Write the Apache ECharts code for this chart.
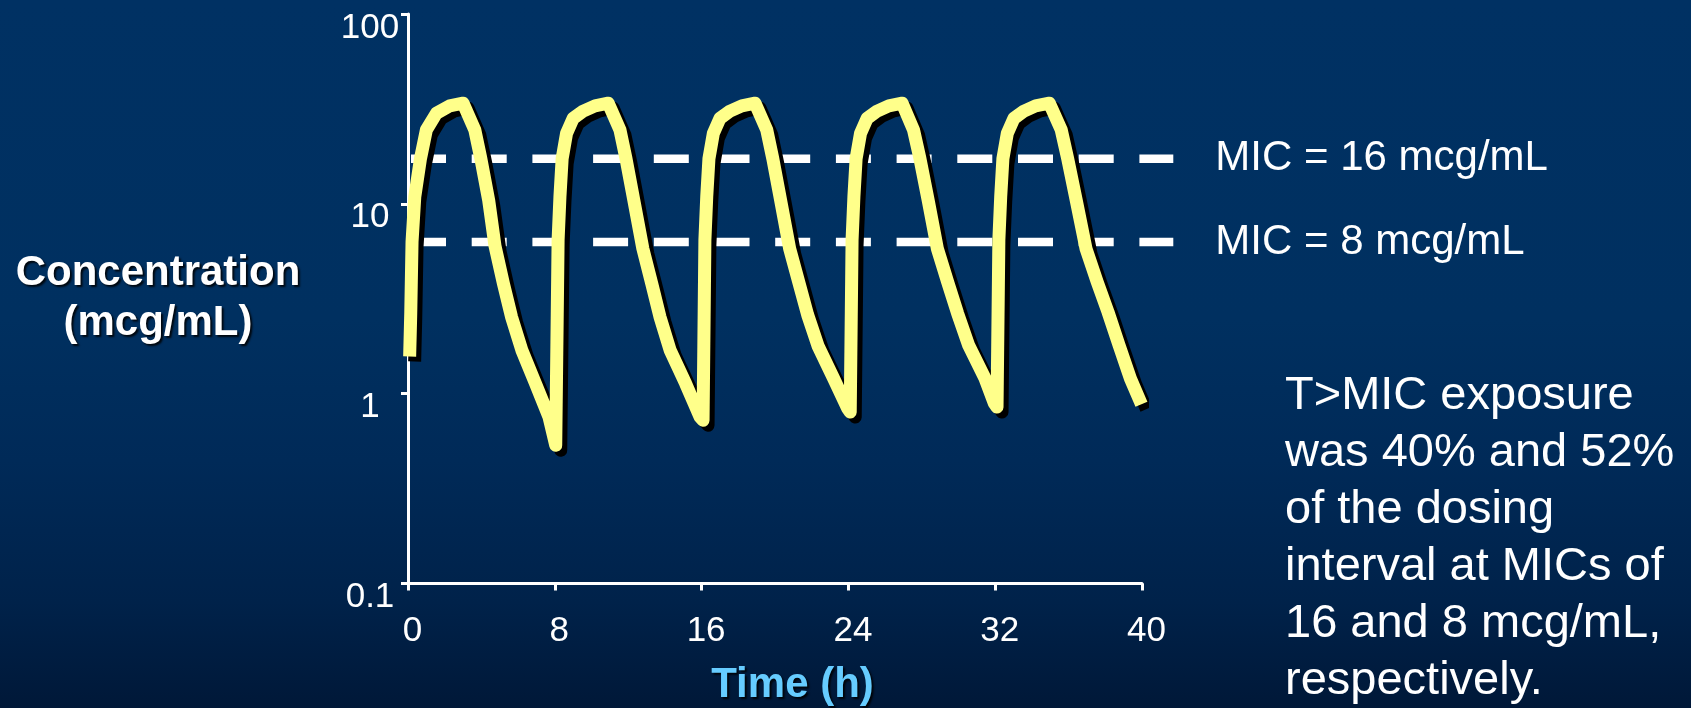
<!DOCTYPE html>
<html>
<head>
<meta charset="utf-8">
<script src="https://cdn.jsdelivr.net/npm/echarts@6/dist/echarts.min.js"></script>
<style>
  html, body { margin: 0; padding: 0; }
  body { background: linear-gradient(to bottom, #003163 0%, #003060 45%, #002a58 65%, #00224a 85%, #001838 100%); }
  #chart { width: 1691px; height: 708px; }
</style>
</head>
<body>
<div id="chart"></div>
<script>
// ---- data ----
const xTicks = [0, 8, 16, 24, 32, 40];          // Time (h)
const yTicks = [0.1, 1, 10, 100];               // Concentration (mcg/mL), log scale

// concentration–time profile, one array per 8-h dosing interval: [time h, mcg/mL]
const dose1 = [[0.09,1.57],[0.15,2.66],[0.22,6.3],[0.37,10.9],[0.68,17.3],[1.0,24.5],[1.55,30.0],[2.27,32.8],[3.0,33.9],
               [3.64,24.5],[3.97,17.3],[4.4,10.4],[4.74,6.0],[5.2,3.8],[5.64,2.54],[6.2,1.70],[6.95,1.13],[7.68,0.756],[8.05,0.535]];
const dose2 = [[8.18,6.45],[8.28,10.9],[8.40,17.3],[8.64,23.5],[9.0,28.2],[9.55,30.8],[10.19,32.8],[10.91,33.9],
               [11.55,24.5],[11.88,17.3],[12.31,10.4],[12.8,5.8],[13.28,3.81],[13.73,2.54],[14.28,1.70],[15.13,1.13],[15.91,0.756],[16.08,0.724]];
const dose3 = [[16.18,6.45],[16.28,10.9],[16.4,17.3],[16.64,23.5],[17.0,28.2],[17.55,30.8],[18.19,32.8],[18.91,33.9],
               [19.55,24.5],[19.88,17.3],[20.31,10.4],[20.8,5.8],[21.3,3.85],[21.78,2.6],[22.35,1.78],[23.2,1.2],[23.95,0.84],[24.1,0.80]];
const dose4 = [[24.2,6.45],[24.3,10.9],[24.42,17.3],[24.66,23.5],[25.02,28.2],[25.57,30.8],[26.2,32.8],[26.93,33.9],
               [27.55,24.5],[27.9,17.3],[28.35,10.4],[28.85,5.8],[29.4,3.9],[29.95,2.65],[30.55,1.8],[31.45,1.2],[31.95,0.89],[32.1,0.85]];
const dose5 = [[32.2,6.45],[32.3,10.9],[32.42,17.3],[32.66,23.5],[33.02,28.2],[33.57,30.8],[34.2,32.8],[34.95,33.9],
               [35.6,24.5],[35.95,17.3],[36.42,10.4],[36.95,5.8],[37.55,3.9],[38.15,2.69],[38.75,1.8],[39.37,1.2],[39.97,0.88]];

// MIC reference lines (level where drawn in the picture) and their labels
const micLevels = [17.3, 6.3];
const micLabels = ['MIC = 16 mcg/mL', 'MIC = 8 mcg/mL'];
const micLineEndH = 41.73;   // dashed lines run a little past the 40-h end of the axis

const noteLines = ['T>MIC exposure', 'was 40% and 52%', 'of the dosing', 'interval at MICs of', '16 and 8 mcg/mL,', 'respectively.'];

// ---- chart ----
const FONT = '"Liberation Sans", Arial, Helvetica, sans-serif';
const profile = [].concat(dose1, dose2, dose3, dose4, dose5);

const chart = echarts.init(document.getElementById('chart'), null, { renderer: 'canvas' });

const micSeries = micLevels.map((lvl, i) => ({
  type: 'line',
  name: micLabels[i],
  xAxisIndex: 1, yAxisIndex: 1,
  data: [[0, lvl], [micLineEndH, lvl]],
  symbol: 'none', silent: true, z: 2,
  lineStyle: { color: '#ffffff', width: 8.5, type: [35, 25.7], dashOffset: 57.7, cap: 'butt' },
  endLabel: { show: true, formatter: micLabels[i], color: '#ffffff', fontSize: 42, fontFamily: FONT, distance: 42, align: 'left' },
  animation: false
}));

const option = {
  animation: false,
  backgroundColor: 'transparent',
  grid: [
    { left: 408, right: 549, top: 14, bottom: 124.5, outerBoundsMode: 'none', containLabel: false },
    { left: 408, right: 517.7, top: 14, bottom: 124.5, outerBoundsMode: 'none', containLabel: false }
  ],
  xAxis: [
    {
      gridIndex: 0, type: 'value', min: xTicks[0], max: xTicks[xTicks.length - 1], interval: 8,
      axisLine: { show: true, onZero: false, lineStyle: { color: '#ffffff', width: 3 } },
      axisTick: { show: true, length: 7, lineStyle: { color: '#ffffff', width: 3 } },
      splitLine: { show: false },
      axisLabel: { color: '#ffffff', fontSize: 35, fontFamily: FONT, margin: 30, padding: [0, 0, 0, 9] },
      name: 'Time (h)', nameLocation: 'middle', nameGap: 81,
      nameTextStyle: { color: '#66ccff', fontSize: 42, fontWeight: 'bold', fontFamily: FONT, padding: [0, 0, 0, 35],
                       textShadowColor: 'rgba(0,0,0,0.85)', textShadowBlur: 2, textShadowOffsetX: 2, textShadowOffsetY: 2 }
    },
    { gridIndex: 1, type: 'value', min: 0, max: micLineEndH, show: false }
  ],
  yAxis: [
    {
      gridIndex: 0, type: 'log', logBase: 10, min: yTicks[0], max: yTicks[yTicks.length - 1],
      axisLine: { show: true, onZero: false, lineStyle: { color: '#ffffff', width: 3 } },
      axisTick: { show: true, length: 7, lineStyle: { color: '#ffffff', width: 3 } },
      splitLine: { show: false },
      axisLabel: { color: '#ffffff', fontSize: 35, fontFamily: FONT, margin: 38, align: 'center',
                   verticalAlign: 'top', lineHeight: 28,
                   formatter: v => String(+Number(v).toPrecision(3)) },
      name: 'Concentration\n(mcg/mL)', nameLocation: 'middle', nameRotate: 0, nameGap: 250,
      nameTextStyle: { color: '#ffffff', fontSize: 42, fontWeight: 'bold', fontFamily: FONT, lineHeight: 50, align: 'center',
                       padding: [0, 0, 26, 0],
                       textShadowColor: 'rgba(0,0,0,0.85)', textShadowBlur: 2, textShadowOffsetX: 2, textShadowOffsetY: 2 }
    },
    { gridIndex: 1, type: 'log', logBase: 10, min: yTicks[0], max: yTicks[yTicks.length - 1], show: false }
  ],
  series: micSeries.concat([{
    type: 'line',
    name: 'Concentration',
    xAxisIndex: 0, yAxisIndex: 0,
    data: profile,
    symbol: 'none', smooth: false, clip: false, z: 5,
    lineStyle: { color: '#ffff8a', width: 13, cap: 'butt', join: 'round',
                 shadowColor: '#000000', shadowBlur: 0, shadowOffsetX: 5, shadowOffsetY: 5 }
  }]),
  graphic: [{
    type: 'text', left: 1285, top: 368, silent: true,
    style: { text: noteLines.join('\n'), fill: '#ffffff', fontSize: 47, fontFamily: FONT, lineHeight: 57 }
  }]
};
chart.setOption(option);
</script>
</body>
</html>
